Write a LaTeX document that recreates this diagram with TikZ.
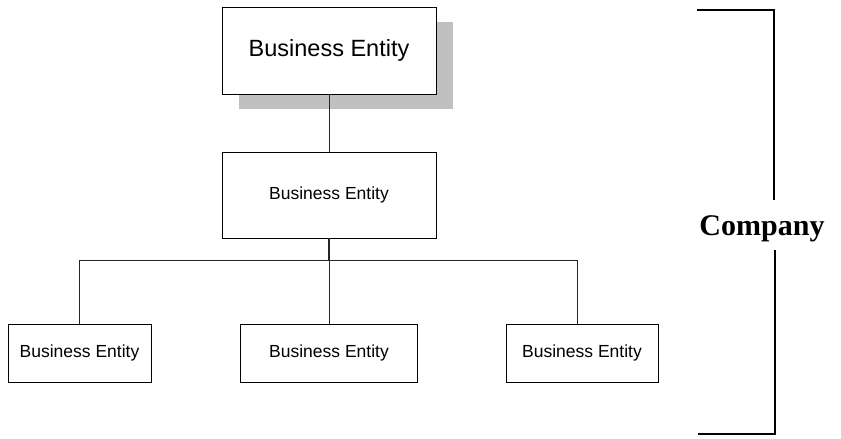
\documentclass[tikz,border=0pt]{standalone}
\usepackage{fontspec}
\setmainfont{Liberation Serif}
\newfontfamily\arialfont{Liberation Sans}
\definecolor{shadowgray}{RGB}{192,192,192}
\begin{document}
\begin{tikzpicture}[x=1pt,y=-1pt,
  entity/.style={draw=black, line width=0.9pt, fill=white, rectangle, inner sep=0pt, font=\arialfont\fontsize{17.5}{20}\selectfont},
  conn/.style={draw=black!85, line width=0.8pt},
  bracket/.style={draw=black, line width=2.2pt}]
\useasboundingbox (0,0) rectangle (841,439);
% shadow of top box
\fill[shadowgray] (239,22) rectangle (453,109);
\node[entity, minimum width=214pt, minimum height=87pt, font=\arialfont\fontsize{23.5}{26}\selectfont] (top) at (329,50.5) {Business Entity};
\node[entity, minimum width=214pt, minimum height=86pt] (mid) at (329,195) {Business Entity};
\node[entity, minimum width=143pt, minimum height=58pt] (b1) at (79.5,353) {Business Entity};
\node[entity, minimum width=177pt, minimum height=58pt] (b2) at (329,353) {Business Entity};
\node[entity, minimum width=152pt, minimum height=58pt] (b3) at (582,353) {Business Entity};
\coordinate (hb) at (329,260);
\coordinate (b3in) at (577,324);
\draw[conn] (top.south) -- (mid.north);
\draw[conn, line width=1.3pt] (mid.south) -- (hb);
\draw[conn] (hb) -| (b1.north);
\draw[conn] (hb) -- (b2.north);
\draw[conn] (hb) -| (b3in);
% Company bracket
\node[font=\bfseries\fontsize{30}{33}\selectfont] (comp) at (762,229) {Company};
\coordinate (btop) at (697,10);
\coordinate (bbot) at (698,434);
\draw[bracket] (btop) -| (774,200);
\draw[bracket] (bbot) -| (775,250);
\end{tikzpicture}
\end{document}
